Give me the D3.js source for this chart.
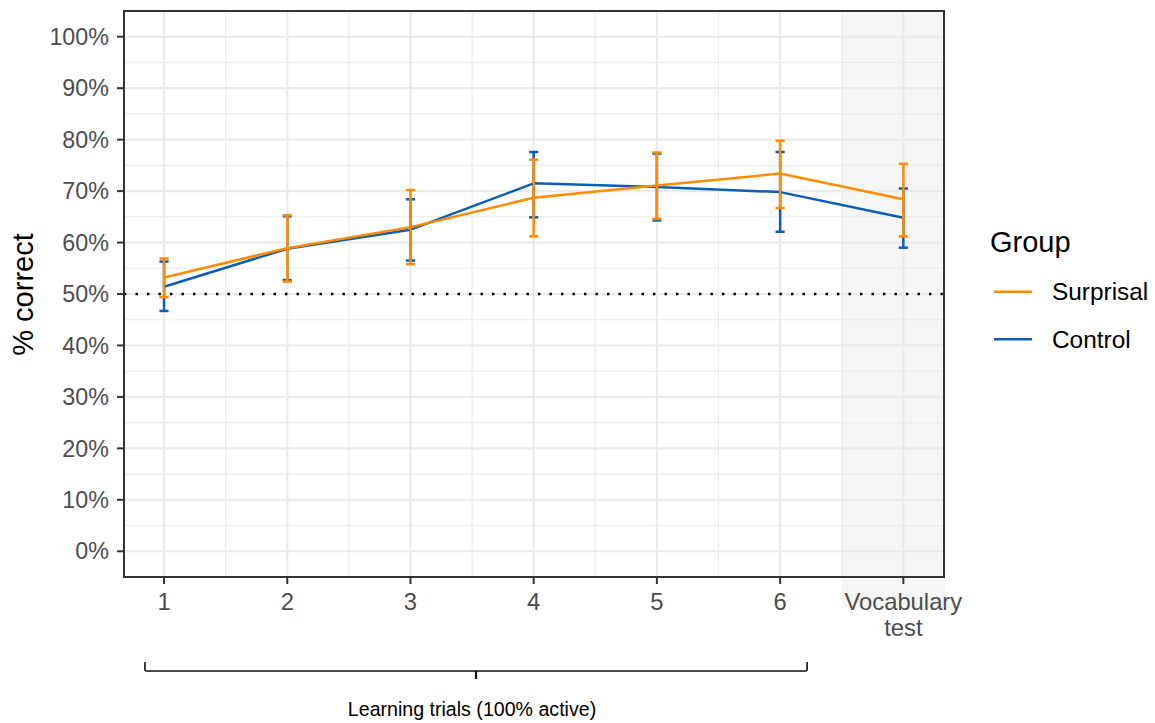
<!DOCTYPE html>
<html>
<head>
<meta charset="utf-8">
<script src="https://cdn.jsdelivr.net/npm/d3@7"></script>
<style>
  html, body { margin: 0; padding: 0; background: #fff; }
  svg { display: block; font-family: "Liberation Sans", Arial, Helvetica, sans-serif; }
</style>
</head>
<body>
<svg id="chart" width="1155" height="723"></svg>
<script>
// ---- data ----
const categories = ["1", "2", "3", "4", "5", "6", "Vocabulary\ntest"];
const groups = ["Surprisal", "Control"];
const surprisalMean = [53.2, 58.9, 63.0, 68.7, 71.1, 73.4, 68.4];
const surprisalLow  = [49.4, 52.4, 55.8, 61.2, 64.6, 66.7, 61.2];
const surprisalHigh = [56.9, 65.3, 70.2, 76.1, 77.5, 79.8, 75.3];
const controlMean   = [51.4, 58.8, 62.5, 71.5, 70.8, 69.8, 64.8];
const controlLow    = [46.7, 52.7, 56.5, 64.9, 64.3, 62.1, 59.0];
const controlHigh   = [56.3, 65.1, 68.4, 77.6, 77.3, 77.6, 70.5];
const yTicks = [0, 10, 20, 30, 40, 50, 60, 70, 80, 90, 100];
const chanceLevel = 50;
const bracketLabel = "Learning trials (100% active)";

// ---- layout ----
const P = { left: 124, right: 944, top: 11, bottom: 577 };
const colors = { Surprisal: "#FF8C00", Control: "#0A5EB8" };
const svg = d3.select("#chart");

const x = d3.scaleLinear().domain([0.675, 7.33]).range([P.left, P.right]);
const y = d3.scaleLinear().domain([-5, 105]).range([P.bottom, P.top]);

const series = {
  Surprisal: categories.map((c, i) => ({ i: i + 1, m: surprisalMean[i], lo: surprisalLow[i], hi: surprisalHigh[i] })),
  Control: categories.map((c, i) => ({ i: i + 1, m: controlMean[i], lo: controlLow[i], hi: controlHigh[i] }))
};

// shaded region for vocabulary test (extends below panel, behind the label)
svg.append("rect")
  .attr("x", x(6.5)).attr("y", P.top)
  .attr("width", P.right + 1 - x(6.5)).attr("height", 608 - P.top)
  .attr("fill", "#f6f6f6");

// grid
const grid = svg.append("g");
const minorY = d3.range(5, 100, 10);
grid.selectAll(".ymin").data(minorY).join("line")
  .attr("x1", P.left).attr("x2", P.right).attr("y1", d => y(d)).attr("y2", d => y(d))
  .attr("stroke", "#ebebeb").attr("stroke-width", 1.1);
const minorX = d3.range(1.5, 7, 1);
grid.selectAll(".xmin").data(minorX).join("line")
  .attr("y1", P.top).attr("y2", P.bottom).attr("x1", d => x(d)).attr("x2", d => x(d))
  .attr("stroke", "#ebebeb").attr("stroke-width", 1.1);
grid.selectAll(".ymaj").data(yTicks).join("line")
  .attr("x1", P.left).attr("x2", P.right).attr("y1", d => y(d)).attr("y2", d => y(d))
  .attr("stroke", "#ebebeb").attr("stroke-width", 2.2);
grid.selectAll(".xmaj").data(categories.map((c, i) => i + 1)).join("line")
  .attr("y1", P.top).attr("y2", P.bottom).attr("x1", d => x(d)).attr("x2", d => x(d))
  .attr("stroke", "#ebebeb").attr("stroke-width", 2.2);

// chance line
svg.append("line")
  .attr("x1", P.left).attr("x2", P.right)
  .attr("y1", y(chanceLevel)).attr("y2", y(chanceLevel))
  .attr("stroke", "#000").attr("stroke-width", 2.4)
  .attr("stroke-dasharray", "2.4,9.1");

// series: Control first, Surprisal on top
const line = d3.line().x(d => x(d.i)).y(d => y(d.m));
["Control", "Surprisal"].forEach(g => {
  const data = series[g];
  const col = colors[g];
  const gg = svg.append("g");
  gg.append("path").datum(data).attr("d", line)
    .attr("fill", "none").attr("stroke", col).attr("stroke-width", 2.5)
    .attr("stroke-linejoin", "round");
  const eb = gg.selectAll(".eb").data(data).join("g");
  eb.append("line").attr("x1", d => x(d.i)).attr("x2", d => x(d.i))
    .attr("y1", d => y(d.lo)).attr("y2", d => y(d.hi))
    .attr("stroke", col).attr("stroke-width", 2.5);
  eb.append("line").attr("x1", d => x(d.i) - 4.6).attr("x2", d => x(d.i) + 4.6)
    .attr("y1", d => y(d.lo)).attr("y2", d => y(d.lo))
    .attr("stroke", col).attr("stroke-width", 2.5);
  eb.append("line").attr("x1", d => x(d.i) - 4.6).attr("x2", d => x(d.i) + 4.6)
    .attr("y1", d => y(d.hi)).attr("y2", d => y(d.hi))
    .attr("stroke", col).attr("stroke-width", 2.5);
});

// panel border
svg.append("rect")
  .attr("x", P.left).attr("y", P.top)
  .attr("width", P.right - P.left).attr("height", P.bottom - P.top)
  .attr("fill", "none").attr("stroke", "#333").attr("stroke-width", 2);

// y axis
const yAxis = svg.append("g");
yAxis.selectAll("line").data(yTicks).join("line")
  .attr("x1", P.left - 7).attr("x2", P.left).attr("y1", d => y(d)).attr("y2", d => y(d))
  .attr("stroke", "#333").attr("stroke-width", 2);
yAxis.selectAll("text").data(yTicks).join("text")
  .attr("x", P.left - 15).attr("y", d => y(d) + 8.2)
  .attr("text-anchor", "end").attr("fill", "#4d4d4d").attr("font-size", 23.3)
  .text(d => d + "%");

// x axis
const xAxis = svg.append("g");
xAxis.selectAll("line").data(categories.map((c, i) => i + 1)).join("line")
  .attr("x1", d => x(d)).attr("x2", d => x(d)).attr("y1", P.bottom).attr("y2", P.bottom + 7)
  .attr("stroke", "#333").attr("stroke-width", 2);
xAxis.selectAll("text").data(categories).join("text")
  .attr("x", (d, i) => x(i + 1)).attr("y", 610)
  .attr("text-anchor", "middle").attr("fill", "#4d4d4d").attr("font-size", 23.8)
  .each(function(d) {
    const parts = d.split("\n");
    d3.select(this).selectAll("tspan").data(parts).join("tspan")
      .attr("x", d3.select(this).attr("x"))
      .attr("dy", (p, k) => k === 0 ? 0 : 26)
      .text(p => p);
  });

// y axis title
svg.append("text")
  .attr("transform", "translate(33,294.5) rotate(-90)")
  .attr("text-anchor", "middle").attr("font-size", 29).attr("fill", "#000")
  .text("% correct");

// bracket
const bx0 = x(0.845), bx1 = x(6.219), bm = x(3.532), by = 671;
svg.append("path")
  .attr("d", `M${bx0},662 L${bx0},${by - 2} Q${bx0},${by} ${bx0 + 2},${by} L${bx1 - 2},${by} Q${bx1},${by} ${bx1},${by - 2} L${bx1},662`)
  .attr("fill", "none").attr("stroke", "#111").attr("stroke-width", 1.6);
svg.append("line")
  .attr("x1", bm).attr("x2", bm).attr("y1", by).attr("y2", 679)
  .attr("stroke", "#111").attr("stroke-width", 2.2);
svg.append("text")
  .attr("x", 472).attr("y", 716)
  .attr("text-anchor", "middle").attr("font-size", 19.6).attr("fill", "#000")
  .text(bracketLabel);

// legend
const lg = svg.append("g");
lg.append("text").attr("x", 990).attr("y", 252).attr("font-size", 29).attr("fill", "#000").text("Group");
groups.forEach((g, k) => {
  const yy = 291.7 + k * 47.6;
  lg.append("line").attr("x1", 994).attr("x2", 1032).attr("y1", yy).attr("y2", yy)
    .attr("stroke", colors[g]).attr("stroke-width", 2.5);
  lg.append("text").attr("x", 1052).attr("y", yy + 8.6).attr("font-size", 24.4).attr("fill", "#000").text(g);
});
</script>
</body>
</html>
